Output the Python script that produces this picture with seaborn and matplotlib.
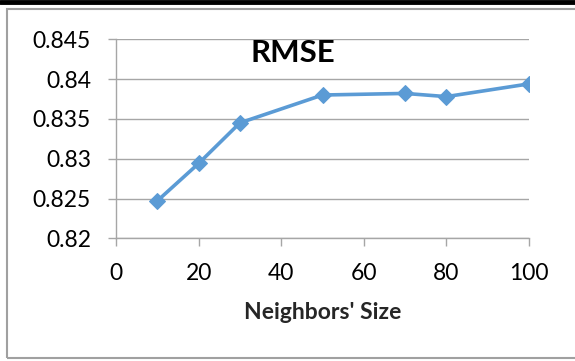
import matplotlib
matplotlib.use("Agg")
import matplotlib.pyplot as plt
import matplotlib.patches as mpatches
import matplotlib.lines as mlines
import seaborn as sns
import pandas as pd

# Neighbourhood size vs. RMSE
neighbors = [10, 20, 30, 50, 70, 80, 100]
rmse = [0.8247, 0.8294, 0.8345, 0.8380, 0.8382, 0.8378, 0.8394]
x_ticks = [0, 20, 40, 60, 80, 100]
y_ticks = [0.82, 0.825, 0.83, 0.835, 0.84, 0.845]
y_tick_labels = ["0.82", "0.825", "0.83", "0.835", "0.84", "0.845"]

df = pd.DataFrame({"Neighbors' Size": neighbors, "RMSE": rmse})

sns.set_theme(style="white")
plt.rcParams["font.family"] = ["Lato", "DejaVu Sans"]

W, H = 575, 361
fig = plt.figure(figsize=(W / 100, H / 100), dpi=100)
ax = fig.add_axes([116 / W, 1 - 238.3 / H, (529 - 116) / W, (238.3 - 39.3) / H])

grid_col = "#A6A6A6"
for yv in y_ticks:
    ax.axhline(yv, color=grid_col, lw=1.0, zorder=0)

sns.lineplot(data=df, x="Neighbors' Size", y="RMSE", ax=ax, color="#5B9BD5",
             linewidth=2.6, marker="D", markersize=8.5, markeredgecolor="#5B9BD5",
             zorder=3)

ax.set_xlim(0, 100)
ax.set_ylim(0.82, 0.845)
ax.set_xticks(x_ticks)
ax.set_xticklabels([str(v) for v in x_ticks])
ax.set_yticks(y_ticks)
ax.set_yticklabels(y_tick_labels)
ax.tick_params(axis="both", which="both", length=6, width=1, color=grid_col,
               labelsize=16.5, labelcolor="black", direction="out")
ax.tick_params(axis="y", pad=12)
ax.tick_params(axis="x", pad=12, bottom=True)
ax.tick_params(axis="y", left=True)

for side in ["top", "right"]:
    ax.spines[side].set_visible(False)
for side in ["left", "bottom"]:
    ax.spines[side].set_color(grid_col)
    ax.spines[side].set_linewidth(1.0)

ax.set_ylabel("")
ax.set_xlabel("Neighbors' Size", fontsize=16.5, fontweight="bold", labelpad=13)

fig.text(293 / W, 1 - 53.5 / H, "RMSE", ha="center", va="center",
         fontsize=22.5, fontweight="bold", color="black")

# outer chart frame and heavy top rule
fig.patches.append(mpatches.Rectangle((6.5 / W, 1 - 358 / H), (W + 10) / W, (358 - 9) / H,
                                      transform=fig.transFigure, fill=False,
                                      edgecolor="#A0A0A0", lw=1.5))
fig.lines.append(mlines.Line2D([0, 1], [1 - 2 / H, 1 - 2 / H], transform=fig.transFigure,
                               color="black", lw=3.5))

fig.savefig("out.png", dpi=100)
